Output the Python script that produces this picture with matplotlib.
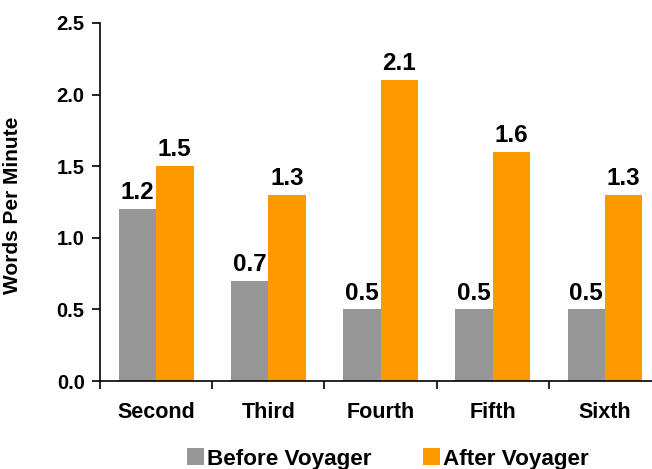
import matplotlib
matplotlib.use("Agg")
import matplotlib.pyplot as plt
import numpy as np

categories = ["Second", "Third", "Fourth", "Fifth", "Sixth"]
before = [1.2, 0.7, 0.5, 0.5, 0.5]
after = [1.5, 1.3, 2.1, 1.6, 1.3]
series_names = ["Before Voyager", "After Voyager"]
yticks = [0.0, 0.5, 1.0, 1.5, 2.0, 2.5]

plt.rcParams['font.family'] = ['Liberation Sans', 'DejaVu Sans']
plt.rcParams['font.weight'] = 'bold'

fig = plt.figure(figsize=(6.52, 4.69), dpi=100)
ax = fig.add_axes([100/652, (469-381)/469, (661-100)/652, (381-23)/469])

x = np.arange(len(categories))
w = 1/3
gray = "#969696"
orange = "#FF9900"
b1 = ax.bar(x - w/2, before, w, color=gray, label=series_names[0])
b2 = ax.bar(x + w/2, after, w, color=orange, label=series_names[1])

for bars, vals in ((b1, before), (b2, after)):
    for r, v in zip(bars, vals):
        ax.annotate(f"{v:.1f}", (r.get_x() + r.get_width()/2, v),
                    xytext=(0, 3.5), textcoords="offset points",
                    ha="center", va="bottom", fontsize=17.5, fontweight="bold")

ax.set_xlim(-0.5, len(categories) - 0.5)
ax.set_ylim(0, 2.5)
ax.set_yticks(yticks)
ax.set_yticklabels([f"{t:.1f}" for t in yticks], fontsize=14.5, fontweight="bold")
ax.set_xticks(np.arange(len(categories) + 1) - 0.5)
ax.set_xticklabels([])
ax.set_xticks(x, minor=True)
ax.set_xticklabels(categories, minor=True, fontsize=15.5, fontweight="bold")
ax.tick_params(axis="x", which="minor", length=0, pad=15)
ax.tick_params(axis="x", which="major", length=6, width=1.2, direction="out")
ax.tick_params(axis="y", length=6, width=1.2, direction="out", pad=5)
for s in ("top", "right"):
    ax.spines[s].set_visible(False)
for s in ("left", "bottom"):
    ax.spines[s].set_linewidth(1.2)

ax.set_ylabel("Words Per Minute", fontsize=15, fontweight="bold")
ax.yaxis.set_label_coords(-(100 - 22) / 561, (381 - 205) / 358)

fig.legend(handles=[b1, b2], labels=series_names, loc="center",
           bbox_to_anchor=(388/652, 1 - 459/469), ncol=2, frameon=False,
           prop={"size": 16.2, "weight": "bold"}, handlelength=0.75, handleheight=0.75,
           handletextpad=0.12, columnspacing=2.3, borderpad=0)

fig.savefig("out.png", dpi=100)
